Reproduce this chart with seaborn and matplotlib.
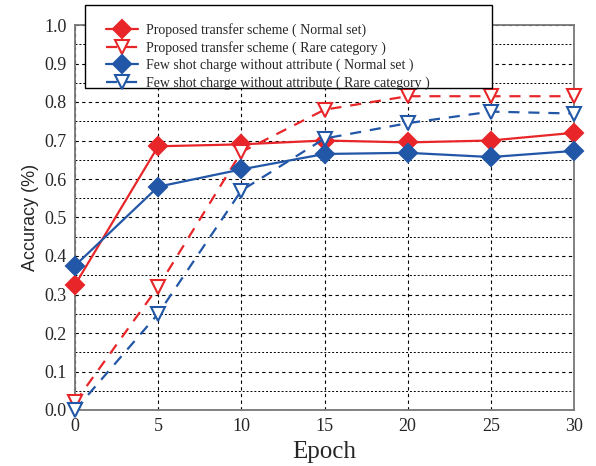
import numpy as np
import pandas as pd
import matplotlib
matplotlib.use('Agg')
import matplotlib.pyplot as plt
import seaborn as sns
from matplotlib.ticker import MultipleLocator
from matplotlib.patches import Rectangle

# data
epochs = [0, 5, 10, 15, 20, 25, 30]
proposed_normal = [0.325, 0.685, 0.690, 0.700, 0.695, 0.700, 0.720]
proposed_rare = [0.020, 0.320, 0.670, 0.780, 0.815, 0.815, 0.815]
fewshot_normal = [0.375, 0.580, 0.625, 0.665, 0.668, 0.657, 0.673]
fewshot_rare = [0.000, 0.250, 0.570, 0.705, 0.745, 0.775, 0.770]

labels = ['Proposed transfer scheme ( Normal set)',
          'Proposed transfer scheme ( Rare category )',
          'Few shot charge without attribute ( Normal set )',
          'Few shot charge without attribute ( Rare category )']

red = '#E8262A'
blue = '#2256A6'

sns.set_style('white')
plt.rcParams['font.family'] = ['Liberation Serif', 'DejaVu Serif']

W, H = 596, 466
fig = plt.figure(figsize=(W / 100, H / 100), dpi=100)
ax = fig.add_axes([75 / W, 56 / H, 499 / W, 385 / H])

styles = [
    (red, '-', 'D', red),
    (red, (0, (5, 4)), 'v', 'white'),
    (blue, '-', 'D', blue),
    (blue, (0, (5, 4)), 'v', 'white'),
]
for vals, lab, (c, ls, mk, fc) in zip([proposed_normal, proposed_rare, fewshot_normal, fewshot_rare], labels, styles):
    df = pd.DataFrame({'Epoch': epochs, 'Accuracy': vals})
    sns.lineplot(data=df, x='Epoch', y='Accuracy', ax=ax, color=c, linestyle=ls,
                 marker=mk, markersize=9 if mk == 'D' else 10.5, markerfacecolor=fc,
                 markeredgecolor=c, markeredgewidth=1.5, linewidth=1.6, label=lab,
                 clip_on=False, zorder=3)

ax.set_xlim(0, 30)
ax.set_ylim(0, 1.0)
ax.xaxis.set_major_locator(MultipleLocator(5))
ax.yaxis.set_major_locator(MultipleLocator(0.1))
ax.yaxis.set_minor_locator(MultipleLocator(0.05))
ax.yaxis.set_major_formatter(matplotlib.ticker.FormatStrFormatter('%.1f'))
ax.grid(True, which='major', color='black', linestyle=(0, (3, 3)), linewidth=0.8)
ax.grid(True, which='minor', axis='y', color='black', linestyle=(0, (2, 2)), linewidth=0.7)
ax.tick_params(axis='both', which='major', direction='in', length=3, labelsize=13, pad=6)
ax.tick_params(axis='y', which='minor', direction='in', length=2)
for s in ax.spines.values():
    s.set_color('#777777')
    s.set_linewidth(1.3)

ax.set_xlabel('Epoch', fontsize=18, labelpad=4)
ax.set_ylabel('Accuracy (%)', fontsize=13, family=['Liberation Sans', 'DejaVu Sans'], labelpad=4)

# legend box drawn separately (it is larger than its contents in the reference)
box = Rectangle((85 / W, 1 - 88 / H), (492 - 85) / W, (88 - 5) / H, transform=fig.transFigure,
                facecolor='white', edgecolor='black', linewidth=1.0, zorder=4)
fig.add_artist(box)
leg = ax.legend(loc='upper left', bbox_to_anchor=(106 / W, 1 - 23 / H), bbox_transform=fig.transFigure,
                fontsize=10, frameon=False, borderpad=0, borderaxespad=0,
                labelspacing=0.28, handlelength=2.3, handletextpad=0.55)
leg.remove()
fig.add_artist(leg)
leg.set_zorder(5)

fig.savefig('out.png', dpi=100)
